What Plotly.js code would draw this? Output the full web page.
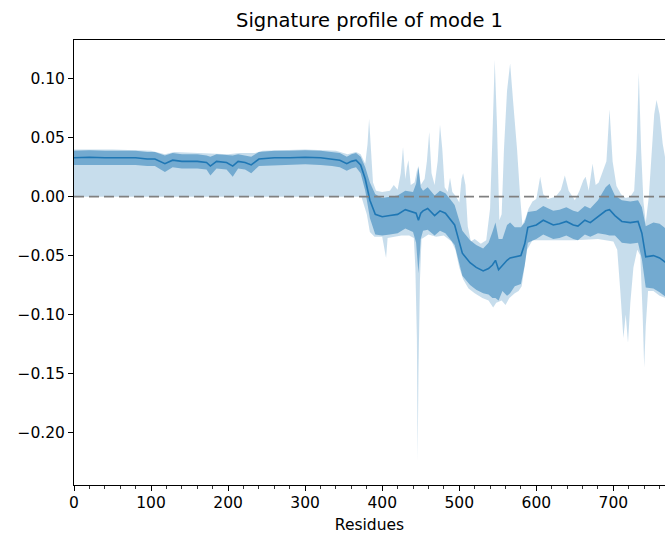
<!DOCTYPE html>
<html>
<head>
<meta charset="utf-8">
<script src="https://cdn.plot.ly/plotly-3.0.1.min.js"></script>
<style>html,body{margin:0;padding:0;background:#fff;overflow:hidden;}#chart{width:665px;height:537px;}</style>
</head>
<body>
<div id="chart"></div>
<script>
// Mean profile and standard deviation
const meanRes = [0,20,40,60,80,95,105,118,128,140,160,172,177,185,198,206,213,222,230,240,260,280,300,320,335,345,354,360,366,372,378,384,391,400,410,420,430,440,444,447,450,453,459,468,475,482,488,494,499,504,514,522,531,538,543,547,551,556,562,566,572,580,585,589,600,609,622,630,639,648,654,663,670,680,690,695,702,711,722,732,737,742,752,760,768];
const meanVal = [0.033,0.0335,0.033,0.033,0.033,0.032,0.032,0.028,0.031,0.030,0.030,0.029,0.026,0.030,0.029,0.026,0.030,0.029,0.027,0.032,0.033,0.033,0.0335,0.033,0.032,0.031,0.028,0.030,0.031,0.027,0.015,-0.003,-0.015,-0.017,-0.016,-0.015,-0.011,-0.013,-0.014,-0.020,-0.014,-0.012,-0.010,-0.016,-0.012,-0.014,-0.019,-0.024,-0.036,-0.048,-0.056,-0.060,-0.063,-0.061,-0.058,-0.054,-0.062,-0.058,-0.054,-0.052,-0.051,-0.050,-0.040,-0.026,-0.024,-0.020,-0.024,-0.023,-0.021,-0.024,-0.025,-0.020,-0.022,-0.017,-0.012,-0.011,-0.016,-0.021,-0.022,-0.021,-0.031,-0.051,-0.050,-0.052,-0.056];
const stdVal = [0.006,0.006,0.006,0.006,0.006,0.006,0.006,0.007,0.006,0.006,0.006,0.006,0.008,0.006,0.006,0.009,0.006,0.006,0.007,0.006,0.006,0.006,0.006,0.006,0.006,0.006,0.006,0.006,0.006,0.007,0.010,0.015,0.017,0.016,0.016,0.016,0.016,0.017,0.025,0.045,0.022,0.017,0.018,0.017,0.017,0.017,0.017,0.017,0.018,0.019,0.019,0.019,0.019,0.022,0.028,0.032,0.026,0.022,0.030,0.030,0.025,0.024,0.018,0.013,0.012,0.012,0.012,0.012,0.012,0.012,0.012,0.012,0.012,0.014,0.020,0.022,0.017,0.018,0.018,0.018,0.022,0.026,0.028,0.029,0.029];

// Maximum envelope
const maxRes = [0,50,100,118,130,170,200,215,235,245,300,340,355,366,372,378,381,383,385,388,392,400,410,415,420,424,427,430,432,434,437,442,445,447,450,455,458,461,464,468,472,475,478,481,485,488,491,496,500,503,505,508,511,515,520,528,535,540,543,546,549,552,555,558,562,566,570,575,579,582,586,590,595,600,605,609,615,625,632,637,642,650,656,661,664,668,673,677,681,687,691,695,699,704,710,716,722,727,730,733,736,739,742,746,750,753,756,760,764,768];
const maxVal = [0.040,0.040,0.039,0.036,0.038,0.037,0.036,0.037,0.037,0.039,0.040,0.039,0.036,0.038,0.036,0.028,0.045,0.066,0.040,0.012,0.005,0.004,0.005,0.010,0.006,0.020,0.042,0.015,0.025,0.031,0.010,0.012,0.022,0.026,0.010,0.015,0.030,0.055,0.020,0.010,0.030,0.061,0.040,0.008,0.004,0.016,0.004,0.000,-0.005,0.015,0.020,0.010,-0.025,-0.038,-0.036,-0.040,-0.037,-0.010,0.050,0.116,0.060,-0.020,-0.015,0.040,0.090,0.113,0.080,0.040,0.000,-0.024,-0.018,-0.010,-0.004,-0.002,0.017,0.002,-0.002,0.000,0.006,0.018,0.005,-0.003,0.005,0.014,0.017,0.005,0.028,0.010,0.012,0.023,0.030,0.074,0.030,0.009,0.002,-0.001,0.000,0.005,0.040,0.105,0.040,-0.004,-0.022,0.000,0.040,0.070,0.082,0.070,0.045,0.030];

// Minimum envelope
const minRes = [0,370,373,376,380,384,390,400,403,405,407,415,425,435,441,443,445,446,447,449,451,460,470,480,490,495,500,505,512,520,530,538,544,548,555,560,565,572,577,581,584,588,595,620,650,680,700,705,709,713,716,719,722,726,731,735,738,740,742,745,752,760,768];
const minVal = [0.000,0.000,0.000,-0.005,-0.015,-0.030,-0.034,-0.034,-0.045,-0.052,-0.035,-0.034,-0.033,-0.033,-0.035,-0.060,-0.120,-0.224,-0.150,-0.070,-0.036,-0.032,-0.034,-0.033,-0.038,-0.045,-0.060,-0.070,-0.078,-0.082,-0.086,-0.088,-0.094,-0.090,-0.088,-0.092,-0.086,-0.082,-0.080,-0.076,-0.065,-0.045,-0.037,-0.037,-0.037,-0.036,-0.038,-0.045,-0.080,-0.120,-0.100,-0.124,-0.090,-0.060,-0.045,-0.050,-0.100,-0.145,-0.110,-0.080,-0.080,-0.084,-0.086];

// Axis ticks
const xTicks = [0,100,200,300,400,500,600,700];
const yTicks = [-0.20,-0.15,-0.10,-0.05,0.00,0.05,0.10];
const yTickText = ["\u22120.20","\u22120.15","\u22120.10","\u22120.05","0.00","0.05","0.10"];

const rangeX = meanRes.concat(meanRes.slice().reverse());
const stdY = meanVal.map((m,i)=>m+stdVal[i]).concat(meanVal.map((m,i)=>m-stdVal[i]).reverse());

const traces = [
  {x: maxRes.concat(minRes.slice().reverse()), y: maxVal.concat(minVal.slice().reverse()),
   type:'scatter', mode:'lines', fill:'toself', fillcolor:'rgba(31,119,180,0.25)',
   line:{width:0, color:'rgba(0,0,0,0)'}, hoverinfo:'skip', showlegend:false},
  {x: rangeX, y: stdY, type:'scatter', mode:'lines', fill:'toself',
   fillcolor:'rgba(31,119,180,0.5)', line:{width:0, color:'rgba(0,0,0,0)'}, hoverinfo:'skip', showlegend:false},
  {x: meanRes, y: meanVal, type:'scatter', mode:'lines', line:{color:'#1f77b4', width:1.6}, showlegend:false}
];

const fontFam = 'DejaVu Sans, sans-serif';
const layout = {
  width:665, height:537,
  margin:{l:74, r:0, t:40, b:52},
  paper_bgcolor:'#fff', plot_bgcolor:'#fff',
  font:{family:fontFam, size:15.5, color:'#000'},
  title:{text:'Signature profile of mode 1', font:{family:fontFam, size:19.5, color:'#000'},
         x:0.5, xref:'paper', xanchor:'center', y:1-20/537, yref:'container', yanchor:'middle'},
  xaxis:{range:[0,767], tickvals:xTicks, ticks:'outside', ticklen:5, tickwidth:1, tickcolor:'#000',
         showline:true, linecolor:'#000', linewidth:1, mirror:true, showgrid:false, zeroline:false,
         minor:{dtick:20, tick0:0, ticks:'outside', ticklen:3, tickwidth:0.8, tickcolor:'#000', showgrid:false},
         title:{text:'Residues', font:{family:fontFam, size:15.5, color:'#000'}, standoff:8},
         ticklabelstandoff:-2,
         tickfont:{family:fontFam, size:15.5, color:'#000'}},
  yaxis:{range:[-0.2447,0.133], tickvals:yTicks, ticktext:yTickText, ticks:'outside', ticklen:5, tickwidth:1,
         tickcolor:'#000', showline:true, linecolor:'#000', linewidth:1, mirror:false, showgrid:false,
         zeroline:false, tickfont:{family:fontFam, size:15.5, color:'#000'}},
  shapes:[{type:'line', xref:'paper', x0:0, x1:1, yref:'y', y0:0, y1:0,
           line:{color:'#808080', width:1.8, dash:'10px,5px'}}]
};

Plotly.newPlot('chart', traces, layout, {displayModeBar:false, staticPlot:true});
</script>
</body>
</html>
